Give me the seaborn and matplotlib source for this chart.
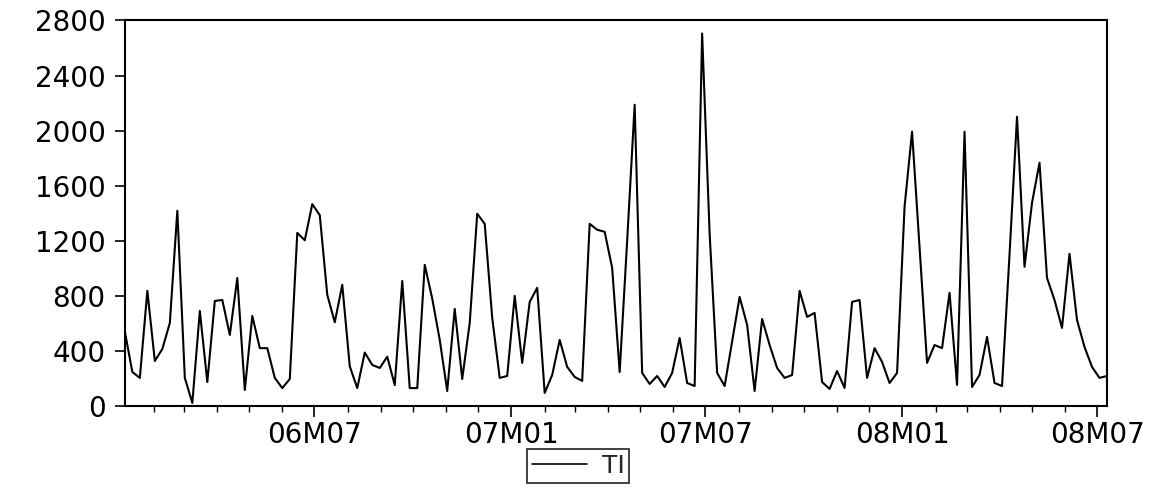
import matplotlib.pyplot as plt
import matplotlib.dates as mdates
import pandas as pd
import seaborn as sns
from matplotlib.lines import Line2D

# weekly TI series
ti = [
    540, 247, 204, 836, 327, 414, 603, 1418, 204, 22,
    690, 174, 763, 770, 516, 930, 116, 654, 420, 420,
    204, 130, 196, 1257, 1204, 1466, 1386, 807, 608, 880,
    288, 130, 388, 298, 276, 358, 152, 908, 130, 130,
    1025, 780, 480, 109, 705, 196, 603, 1396, 1323, 640,
    204, 218, 800, 313, 756, 858, 95, 225, 480, 284,
    211, 182, 1323, 1280, 1265, 1003, 247, 1200, 2188, 240,
    160, 218, 138, 240, 494, 167, 145, 2705, 1250, 240,
    145, 470, 792, 589, 109, 632, 443, 276, 204, 225,
    836, 647, 676, 174, 124, 254, 131, 756, 770, 204,
    420, 320, 167, 240, 1447, 1992, 1156, 313, 443, 420,
    822, 153, 1992, 138, 225, 502, 167, 145, 1100, 2101,
    1011, 1476, 1767, 930, 770, 567, 1105, 625, 429, 284,
    204, 218,
]
start_date = "2006-01-05"
dates = pd.date_range(start_date, periods=len(ti), freq="7D")

major_ticks = ["2006-07-01", "2007-01-01", "2007-07-01", "2008-01-01", "2008-07-01"]
y_ticks = [0, 400, 800, 1200, 1600, 2000, 2400, 2800]

sns.set_theme(style="ticks")
plt.rcParams["font.family"] = ["DejaVu Sans"]

df = pd.DataFrame({"date": dates, "TI": ti})

fig = plt.figure(figsize=(11.56, 4.99), dpi=100)
ax = fig.add_axes([0.108, 0.1864, 0.8496, 0.7726])
sns.lineplot(data=df, x="date", y="TI", ax=ax, color="black", linewidth=1.5, legend=False)

ax.set_xlim(dates[0], dates[-1])
ax.set_ylim(0, 2800)
ax.set_yticks(y_ticks)
ax.set_yticklabels([str(v) for v in y_ticks])
majors = pd.to_datetime(major_ticks)
ax.set_xticks(majors)
ax.set_xticklabels([d.strftime("%yM%m") for d in majors])
ax.xaxis.set_minor_locator(mdates.MonthLocator())
ax.set_xlabel("")
ax.set_ylabel("")

for side in ax.spines.values():
    side.set_color("black")
    side.set_linewidth(1.5)
ax.tick_params(axis="both", which="major", direction="out", length=8, width=1.2,
               colors="black", labelsize=20, pad=3)
ax.tick_params(axis="y", which="major", length=7, pad=7)
ax.tick_params(axis="x", which="minor", direction="out", length=4, width=1.0, colors="black")

handles = [Line2D([], [], color="black", linewidth=1.2)]
leg = fig.legend(handles, ["TI"], loc="center", bbox_to_anchor=(0.5, 0.066),
                 frameon=True, fancybox=False, edgecolor="black", fontsize=18,
                 handlelength=2.2, handletextpad=0.6, borderpad=0.2)
leg.get_frame().set_linewidth(1.3)

fig.savefig("out.png", dpi=100)
